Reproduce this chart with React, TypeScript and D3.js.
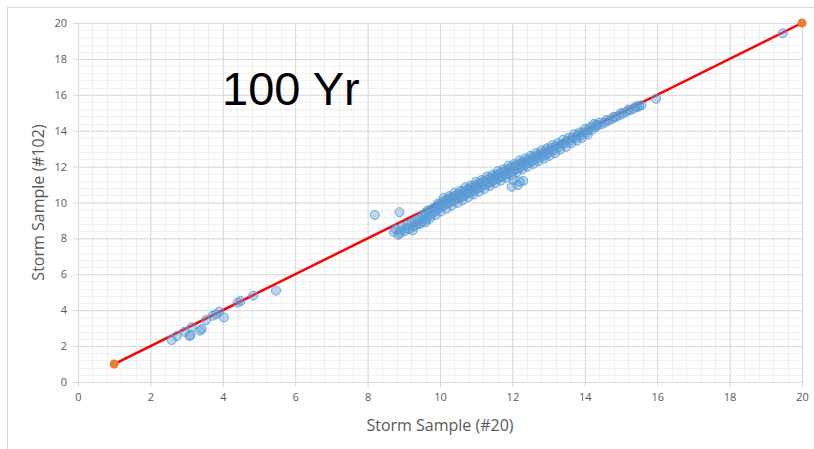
import React, { useEffect, useRef } from "react";
import * as d3 from "d3";

// Storm Sample (#20) vs Storm Sample (#102), 100 Yr
const lowPoints: [number, number][] = [
  [2.59, 2.34], [2.73, 2.56], [2.94, 2.8], [3.08, 2.56], [3.11, 2.62],
  [3.14, 3.05], [3.37, 2.86], [3.42, 2.95], [3.54, 3.45], [3.72, 3.69],
  [3.81, 3.77], [3.9, 3.92], [4.03, 3.6], [4.41, 4.42], [4.49, 4.51],
  [4.84, 4.81], [5.47, 5.09],
];

const cloudPoints: [number, number][] = [
  [8.2, 9.3], [8.88, 9.46],
  [8.72, 8.36], [8.78, 8.5], [8.85, 8.2], [8.9, 8.45], [8.95, 8.62], [9.02, 8.4],
  [9.08, 8.56], [9.1, 8.75], [9.15, 8.52], [9.2, 8.85], [9.25, 8.65], [9.3, 8.95],
  [9.32, 8.7], [9.38, 9.05], [9.4, 8.82], [9.45, 9.1], [9.5, 8.92], [9.52, 9.3],
  [9.55, 9.15], [9.6, 9.4], [9.62, 9.05], [9.68, 9.5], [9.7, 9.25], [9.75, 9.6],
  [9.78, 9.35], [9.82, 9.7], [9.85, 9.5], [9.9, 9.8], [9.92, 9.6], [9.98, 9.85],
  [10.0, 9.7], [10.05, 10.0], [10.08, 9.8], [10.12, 10.1], [10.15, 9.9], [10.2, 10.15],
  [10.22, 9.95], [10.28, 10.25], [10.3, 10.05], [10.35, 10.3], [10.38, 10.1], [10.42, 10.4],
  [10.45, 10.2], [10.5, 10.45], [10.52, 10.25], [10.58, 10.55], [10.6, 10.3], [10.65, 10.6],
  [10.68, 10.4], [10.72, 10.7], [10.75, 10.5], [10.8, 10.75], [10.82, 10.55], [10.88, 10.85],
  [10.9, 10.6], [10.95, 10.9], [10.98, 10.7], [11.02, 11.0], [11.05, 10.8], [11.1, 11.05],
  [11.12, 10.85], [11.18, 11.15], [11.2, 10.95], [11.25, 11.2], [11.28, 11.0], [11.32, 11.3],
  [11.35, 11.1], [11.4, 11.35], [11.42, 11.15], [11.48, 11.45], [11.5, 11.25], [11.55, 11.5],
  [11.58, 11.3], [11.62, 11.6], [11.65, 11.4], [11.7, 11.65], [11.72, 11.45], [11.78, 11.75],
  [11.8, 11.55], [11.85, 11.8], [11.88, 11.6], [11.92, 11.9], [11.95, 11.7], [12.0, 11.95],
  [12.02, 11.75], [12.08, 12.05], [12.1, 11.85], [12.15, 12.1], [12.18, 11.9], [12.22, 12.2],
  [12.25, 12.0], [12.3, 12.25], [12.35, 12.1], [12.4, 12.35], [12.45, 12.2], [12.5, 12.45],
  [12.55, 12.3], [12.6, 12.55], [12.65, 12.4], [12.7, 12.65], [12.75, 12.5], [12.8, 12.75],
  [12.85, 12.6], [12.9, 12.85], [12.95, 12.7], [13.0, 12.95], [13.05, 12.8], [13.1, 13.05],
  [13.15, 12.9], [13.2, 13.15], [13.3, 13.1], [13.35, 13.25], [13.45, 13.3], [13.5, 13.45],
  [13.6, 13.45], [13.65, 13.6], [13.75, 13.6], [13.8, 13.75], [13.9, 13.75], [13.95, 13.9],
  [14.05, 13.9], [14.1, 14.05], [14.2, 14.05], [14.3, 14.2], [14.35, 14.3], [14.45, 14.35],
  [14.55, 14.45], [14.65, 14.55], [14.75, 14.65], [14.85, 14.75], [14.95, 14.85], [15.05, 14.95],
  [15.15, 15.05], [15.25, 15.15], [15.35, 15.22], [15.45, 15.32], [15.5, 15.38], [15.57, 15.42],
  [10.1, 10.25], [10.4, 10.55], [10.7, 10.85], [11.0, 11.15], [11.3, 11.45], [11.6, 11.75],
  [11.9, 12.05], [12.2, 12.35], [12.5, 12.6], [12.8, 12.9], [13.1, 13.2], [13.4, 13.5],
  [13.7, 13.8], [14.0, 14.1], [14.25, 14.38], [14.3, 14.32],
  [11.98, 10.88], [12.03, 11.25], [12.3, 11.2], [12.15, 10.97], [12.21, 11.16],
  [9.6, 8.9], [9.25, 8.45], [8.9, 8.3], [9.45, 8.8],
  // lower edge of the band
  [9.72, 9.1], [9.88, 9.3], [10.02, 9.5], [10.18, 9.65], [10.32, 9.82], [10.48, 9.98],
  [10.62, 10.12], [10.78, 10.3], [10.92, 10.45], [11.08, 10.6], [11.22, 10.75], [11.38, 10.92],
  [11.52, 11.08], [11.68, 11.22], [11.82, 11.38], [11.98, 11.52], [12.12, 11.68], [12.28, 11.85],
  [12.42, 12.0], [12.58, 12.15], [12.72, 12.3], [12.88, 12.45], [13.02, 12.6], [13.18, 12.75],
  [13.32, 12.95], [13.48, 13.1], [13.62, 13.3], [13.78, 13.45], [13.92, 13.6], [14.08, 13.78],
  // upper edge of the band
  [9.65, 9.55], [9.95, 9.95], [10.25, 10.35], [10.55, 10.65], [10.85, 10.95], [11.15, 11.25],
  [11.45, 11.55], [11.75, 11.85], [12.05, 12.15], [12.35, 12.45], [12.65, 12.75], [12.95, 13.02],
  [13.25, 13.3], [13.55, 13.6], [13.85, 13.9], [14.15, 14.2], [14.4, 14.45], [14.6, 14.6],
  [14.8, 14.78], [15.0, 14.98], [15.2, 15.18], [15.4, 15.35],
];

const highPoints: [number, number][] = [
  [15.97, 15.78], [19.47, 19.43],
];

const refLine: [number, number][] = [
  [1, 1], [20, 20],
];

const xTicks = [0, 2, 4, 6, 8, 10, 12, 14, 16, 18, 20];
const yTicks = [0, 2, 4, 6, 8, 10, 12, 14, 16, 18, 20];
const title = "100 Yr";
const xTitle = "Storm Sample (#20)";
const yTitle = "Storm Sample (#102)";

const App = () => {
  const ref = useRef<SVGSVGElement>(null);
  const width = 814;
  const height = 449;
  const left = 78;
  const right = 802;
  const top = 23;
  const bottom = 382;

  useEffect(() => {
    if (!ref.current) return;
    const svg = d3.select(ref.current);
    svg.selectAll("*").remove();

    const x = d3.scaleLinear([0, 20], [left, right]);
    const y = d3.scaleLinear([0, 20], [bottom, top]);
    const font = "'Open Sans', 'Noto Sans', sans-serif";

    svg.append("rect").attr("width", width).attr("height", height).attr("fill", "#fff");
    // chart border (cropped)
    svg
      .append("rect")
      .attr("x", 7.5)
      .attr("y", 7.5)
      .attr("width", width + 20)
      .attr("height", height + 20)
      .attr("fill", "none")
      .attr("stroke", "#d9d9d9");

    // minor grid
    const minor = d3.range(0, 20.01, 0.4);
    svg
      .append("g")
      .selectAll("line.vx")
      .data(minor)
      .join("line")
      .attr("x1", (d) => Math.round(x(d)) + 0.5)
      .attr("x2", (d) => Math.round(x(d)) + 0.5)
      .attr("y1", top)
      .attr("y2", bottom)
      .attr("stroke", "#f0f0f0");
    svg
      .append("g")
      .selectAll("line.hy")
      .data(minor)
      .join("line")
      .attr("y1", (d) => Math.round(y(d)) + 0.5)
      .attr("y2", (d) => Math.round(y(d)) + 0.5)
      .attr("x1", left)
      .attr("x2", right)
      .attr("stroke", "#f0f0f0");

    // x-axis with major grid
    svg
      .append("g")
      .attr("transform", `translate(0,${bottom})`)
      .call(d3.axisBottom(x).tickValues(xTicks).tickSize(5).tickPadding(6).tickFormat(d3.format("d")))
      .call((g) => g.select(".domain").attr("stroke", "#d9d9d9"))
      .call((g) => g.selectAll(".tick line").attr("stroke", "#d9d9d9"))
      .call((g) =>
        g
          .selectAll(".tick line")
          .clone()
          .attr("y1", 0)
          .attr("y2", top - bottom)
      )
      .call((g) =>
        g.selectAll("text").attr("fill", "#595959").attr("font-size", 11).attr("font-family", font)
      );

    svg
      .append("g")
      .attr("transform", `translate(${left},0)`)
      .call(d3.axisLeft(y).tickValues(yTicks).tickSize(5).tickPadding(6).tickFormat(d3.format("d")))
      .call((g) => g.select(".domain").attr("stroke", "#d9d9d9"))
      .call((g) => g.selectAll(".tick line").attr("stroke", "#d9d9d9"))
      .call((g) =>
        g
          .selectAll(".tick line")
          .clone()
          .attr("x1", 0)
          .attr("x2", right - left)
      )
      .call((g) =>
        g.selectAll("text").attr("fill", "#595959").attr("font-size", 11).attr("font-family", font)
      );

    // reference line
    const line = d3
      .line<[number, number]>()
      .x((d) => x(d[0]))
      .y((d) => y(d[1]));
    svg
      .append("path")
      .attr("d", line(refLine))
      .attr("fill", "none")
      .attr("stroke", "#ff0000")
      .attr("stroke-width", 2.5);

    // scatter points
    const pts = [...lowPoints, ...cloudPoints, ...highPoints];
    svg
      .append("g")
      .selectAll("circle")
      .data(pts)
      .join("circle")
      .attr("cx", (d) => x(d[0]))
      .attr("cy", (d) => y(d[1]))
      .attr("r", 4.5)
      .attr("fill", "rgba(91,155,213,0.4)")
      .attr("stroke", "#5b9bd5")
      .attr("stroke-opacity", 0.85)
      .attr("stroke-width", 1);

    // line endpoints
    svg
      .append("g")
      .selectAll("circle")
      .data(refLine)
      .join("circle")
      .attr("cx", (d) => x(d[0]))
      .attr("cy", (d) => y(d[1]))
      .attr("r", 4.5)
      .attr("fill", "#ed7d31");

    // titles
    svg
      .append("text")
      .attr("x", 222)
      .attr("y", 105)
      .attr("font-family", "'Liberation Sans', Arial, sans-serif")
      .attr("font-size", 47)
      .attr("fill", "#000")
      .text(title);

    svg
      .append("text")
      .attr("x", (left + right) / 2)
      .attr("y", 431)
      .attr("text-anchor", "middle")
      .attr("font-family", font)
      .attr("font-size", 16)
      .attr("fill", "#595959")
      .text(xTitle);

    svg
      .append("text")
      .attr("transform", `translate(44,${(top + bottom) / 2}) rotate(-90)`)
      .attr("text-anchor", "middle")
      .attr("font-family", font)
      .attr("font-size", 16)
      .attr("fill", "#595959")
      .text(yTitle);
  }, []);

  return (
    <svg
      ref={ref}
      width={width}
      height={height}
      style={{ position: "absolute", left: 0, top: 0, display: "block" }}
    />
  );
};

export default App;
